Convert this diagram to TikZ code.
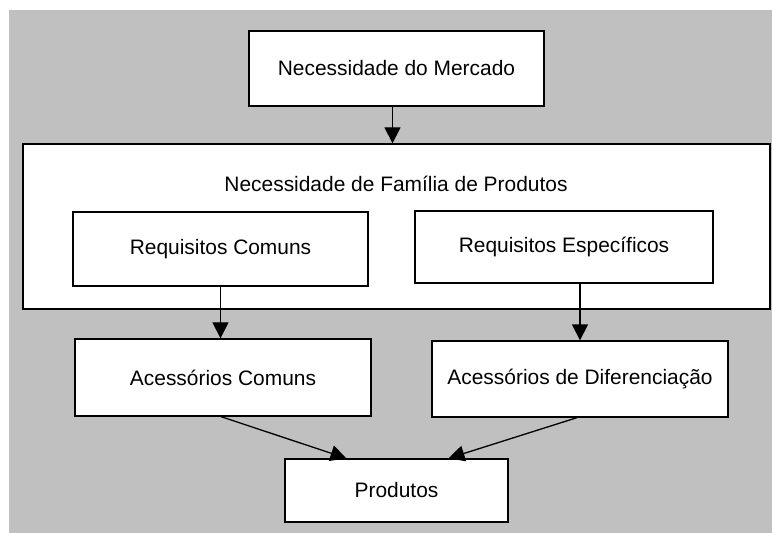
\documentclass[tikz,border=0pt]{standalone}
\usepackage{fontspec}
\setmainfont{Liberation Sans}
\usetikzlibrary{arrows.meta}
\definecolor{fundo}{RGB}{192,192,192}
\tikzset{
  caixa/.style={draw=black, fill=white, line width=1.3bp, inner sep=0pt, align=center},
  seta/.style={line width=1.3bp, -{Triangle[length=16bp, width=16bp]}}
}
\begin{document}
\begin{tikzpicture}[x=1bp, y=-1bp, font=\fontsize{21}{25}\selectfont]
\useasboundingbox (0,0) rectangle (772,533);
\fill[fundo] (9,10) rectangle (772,533);
% caixas
\node[caixa, minimum width=295bp, minimum height=75bp] (mercado) at (396.5,68.5) {Necessidade do Mercado};
\node[caixa, minimum width=747bp, minimum height=165bp] (familia) at (396.5,226.5) {};
\node (titulo) at (396,184) {Necessidade de Família de Produtos};
\node[caixa, minimum width=295bp, minimum height=74bp] (reqcomuns) at (220.5,249) {Requisitos Comuns};
\node[caixa, minimum width=298bp, minimum height=72bp] (reqespec) at (564,247) {Requisitos Específicos};
\node[caixa, minimum width=296bp, minimum height=77bp] (acecomuns) at (223,377.5) {Acessórios Comuns};
\node[caixa, minimum width=296bp, minimum height=76bp] (acedif) at (580,379) {Acessórios de Diferenciação};
\node[caixa, minimum width=223bp, minimum height=63bp] (produtos) at (396.5,490.5) {Produtos};
% setas
\draw[seta] ([xshift=-4bp]mercado.south) -- ([xshift=-4bp]mercado.south |- familia.north);
\draw[seta] (reqcomuns.south) -- (reqcomuns.south |- acecomuns.north);
\draw[seta] (acedif.north |- reqespec.south) -- (acedif.north);
\draw[seta] ([xshift=-2bp]acecomuns.south) -- ([xshift=-50bp]produtos.north);
\draw[seta] ([xshift=-3bp]acedif.south) -- ([xshift=52bp]produtos.north);
\end{tikzpicture}
\end{document}
